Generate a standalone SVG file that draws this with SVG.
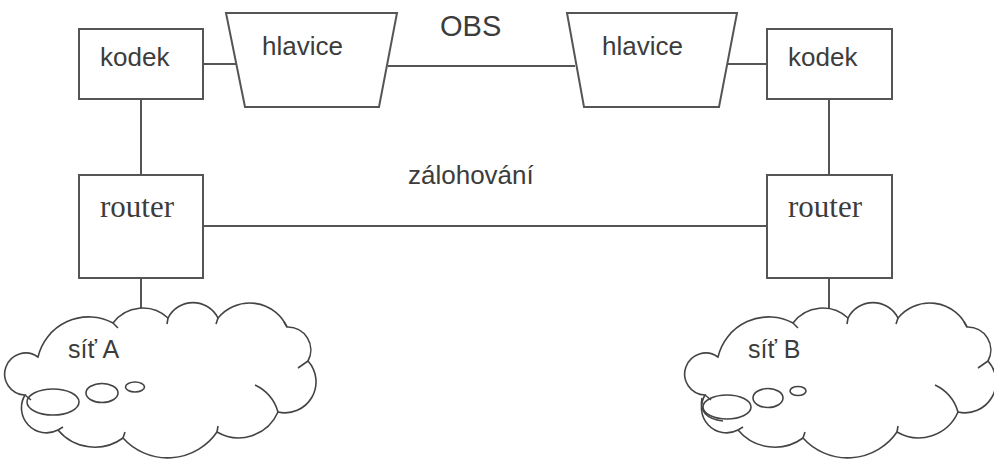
<svg xmlns="http://www.w3.org/2000/svg" width="994" height="459" viewBox="0 0 994 459">
<defs>
<style>
.box{fill:#fff;stroke:#555;stroke-width:2}
.ln{fill:none;stroke:#555;stroke-width:2}
.cl{fill:#fff;stroke:#444;stroke-width:1.6}
.ci{fill:none;stroke:#444;stroke-width:1.6}
.t{font-family:"Liberation Sans",Arial,sans-serif;font-size:26px;fill:#3c3c3c}
.ts{font-family:"Liberation Serif","Times New Roman",serif;font-size:31px;fill:#3c3c3c}
</style>
<g id="cloudShape">
<path class="cl" d="M25,395 A21 21 0 1 1 38,357 A52 52 0 0 1 113,323 A37 37 0 0 1 168,318 A28 28 0 0 1 218,318 A41 41 0 0 1 287,327 A23 23 0 0 1 308,361 A31 31 0 0 1 278,412 A43 43 0 0 1 217,432 A60 60 0 0 1 123,438 A48 48 0 0 1 58,430 A25 25 0 0 1 25,395 Z"/>
<path class="ci" d="M113,323 L118,328 M168,318 L167,324 M218,318 L216,324 M287,327 L284,322 M308,361 L298,368 M255,385 A43 43 0 0 1 278,412 M217,432 L218,426 M123,438 L125,432 M58,430 L63,427 M25,395 L31,400"/>
</g>
</defs>
<g id="connectors">
<line class="ln" x1="203" y1="64" x2="237" y2="64"/>
<line class="ln" x1="388" y1="66" x2="575" y2="66"/>
<line class="ln" x1="728" y1="64" x2="767" y2="64"/>
<line class="ln" x1="141" y1="99" x2="141" y2="175"/>
<line class="ln" x1="829" y1="99" x2="829" y2="175"/>
<line class="ln" x1="203" y1="226" x2="767" y2="226"/>
<line class="ln" x1="141" y1="278" x2="141" y2="313"/>
<line class="ln" x1="829" y1="278" x2="829" y2="313"/>
</g>
<g id="kodekA"><rect class="box" x="79" y="29" width="124" height="70"/><text class="t" x="100" y="66">kodek</text></g>
<g id="hlaviceA"><polygon class="box" points="226,13 397,13 379,107 245,107"/><text class="t" x="262" y="55">hlavice</text></g>
<g id="hlaviceB"><polygon class="box" points="567,13 737,13 719,107 584,107"/><text class="t" x="602" y="55">hlavice</text></g>
<g id="kodekB"><rect class="box" x="767" y="29" width="125" height="70"/><text class="t" x="788" y="66">kodek</text></g>
<g id="routerA"><rect class="box" x="79" y="175" width="124" height="103"/><text class="ts" x="100" y="217">router</text></g>
<g id="routerB"><rect class="box" x="767" y="175" width="125" height="103"/><text class="ts" x="788" y="217">router</text></g>
<g id="labels">
<text class="t" x="440" y="36" style="font-size:29px">OBS</text>
<text class="t" x="408" y="184">zálohování</text>
</g>
<g id="sitA">
<use href="#cloudShape"/>
<ellipse class="ci" cx="53" cy="402" rx="26" ry="13"/>
<ellipse class="ci" cx="102" cy="393" rx="16" ry="9.5"/>
<ellipse class="ci" cx="135" cy="387" rx="9.5" ry="5"/>
<text class="t" x="68" y="358" style="font-size:25px">síť A</text>
</g>
<g id="sitB">
<use href="#cloudShape" transform="translate(680,0)"/>
<ellipse class="ci" cx="727" cy="407" rx="24" ry="12"/>
<ellipse class="ci" cx="768" cy="398" rx="15" ry="9.5"/>
<ellipse class="ci" cx="798" cy="391" rx="8" ry="4.5"/>
<path class="ci" d="M702,398 Q698,418 723,421"/>
<text class="t" x="748" y="358" style="font-size:25px">síť B</text>
</g>
</svg>
